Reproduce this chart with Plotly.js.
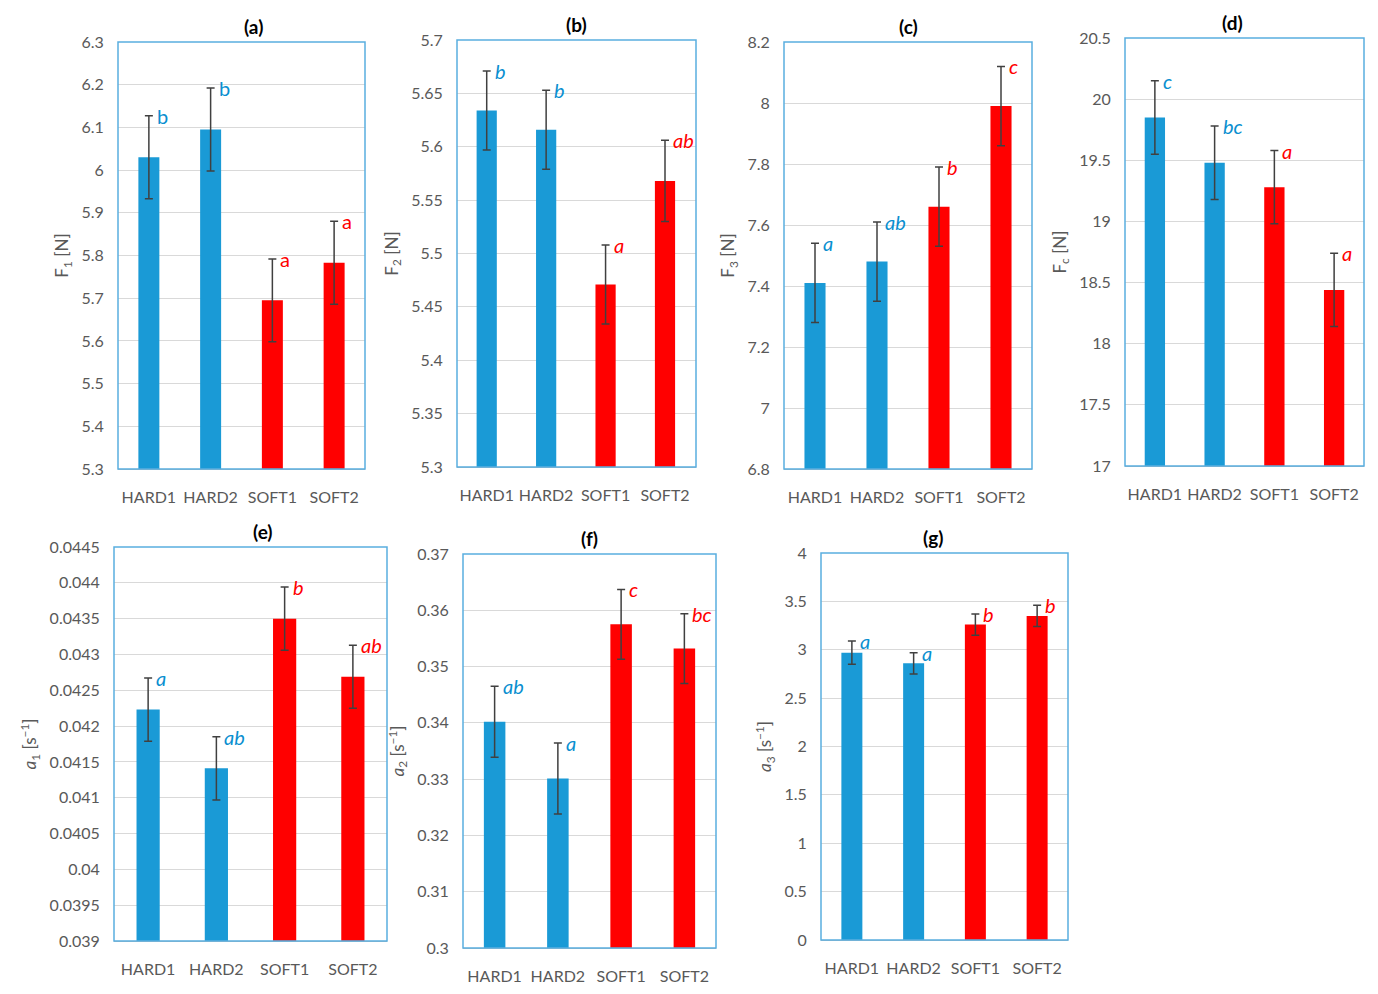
<!DOCTYPE html>
<html>
<head>
<meta charset="utf-8">
<script src="https://cdn.plot.ly/plotly-3.0.1.min.js"></script>
<style>body{margin:0}#chart{width:1378px;height:994px}</style>
</head>
<body>
<div id="chart"></div>
<script>
var categories = ['HARD1', 'HARD2', 'SOFT1', 'SOFT2'];
var barColors = ['#1a9ad6', '#1a9ad6', '#ff0000', '#ff0000'];

var aMean = [6.03, 6.095, 5.695, 5.783], aErr = [0.097, 0.097, 0.097, 0.097], aLetters = ['b', 'b', 'a', 'a'];
var bMean = [5.634, 5.616, 5.471, 5.568], bErr = [0.037, 0.037, 0.037, 0.038], bLetters = ['b', 'b', 'a', 'ab'];
var cMean = [7.41, 7.48, 7.66, 7.99], cErr = [0.13, 0.13, 0.13, 0.13], cLetters = ['a', 'ab', 'b', 'c'];
var dMean = [19.85, 19.48, 19.28, 18.44], dErr = [0.3, 0.3, 0.3, 0.3], dLetters = ['c', 'bc', 'a', 'a'];
var eMean = [0.04223, 0.04141, 0.0435, 0.04269], eErr = [0.00044, 0.00044, 0.00044, 0.00044], eLetters = ['a', 'ab', 'b', 'ab'];
var fMean = [0.3402, 0.3301, 0.3575, 0.3532], fErr = [0.0063, 0.0063, 0.0062, 0.0062], fLetters = ['ab', 'a', 'c', 'bc'];
var gMean = [2.97, 2.86, 3.26, 3.35], gErr = [0.12, 0.11, 0.11, 0.11], gLetters = ['a', 'a', 'b', 'b'];

var panels = [
  {t: '(a)', m: aMean, e: aErr, l: aLetters, yt: 'F<sub>1</sub> [N]', r: [5.3, 6.3], d: 0.1, box: [118, 365, 42, 469], it: false},
  {t: '(b)', m: bMean, e: bErr, l: bLetters, yt: 'F<sub>2</sub> [N]', r: [5.3, 5.7], d: 0.05, box: [457, 696, 40, 467], it: true},
  {t: '(c)', m: cMean, e: cErr, l: cLetters, yt: 'F<sub>3</sub> [N]', r: [6.8, 8.2], d: 0.2, box: [784, 1032, 42, 469], it: true},
  {t: '(d)', m: dMean, e: dErr, l: dLetters, yt: 'F<sub>c</sub> [N]', r: [17, 20.5], d: 0.5, box: [1125, 1364, 38, 466], it: true},
  {t: '(e)', m: eMean, e: eErr, l: eLetters, yt: '<i>a</i><sub>1</sub> [s<sup>−1</sup>]', r: [0.039, 0.0445], d: 0.0005, box: [114, 387, 547, 941], it: true},
  {t: '(f)', m: fMean, e: fErr, l: fLetters, yt: '<i>a</i><sub>2</sub> [s<sup>−1</sup>]', r: [0.3, 0.37], d: 0.01, box: [463, 716, 554, 948], it: true},
  {t: '(g)', m: gMean, e: gErr, l: gLetters, yt: '<i>a</i><sub>3</sub> [s<sup>−1</sup>]', r: [0, 4], d: 0.5, box: [821, 1068, 553, 940], it: true}
];

var W = 1378, H = 994;
var data = [], annotations = [], shapes = [];
var layout = {width: W, height: H, margin: {l: 0, r: 0, t: 0, b: 0}, showlegend: false,
  paper_bgcolor: 'white', plot_bgcolor: 'white', font: {family: 'Lato, sans-serif', color: '#595959'}};

panels.forEach(function (p, i) {
  var n = i === 0 ? '' : String(i + 1);
  var xa = 'x' + n, ya = 'y' + n;
  data.push({type: 'bar', x: categories, y: p.m, xaxis: xa, yaxis: ya, width: 0.34,
    marker: {color: barColors},
    error_y: {type: 'data', array: p.e, visible: true, color: '#404040', thickness: 1.5, width: 4}});
  var bx = p.box;
  layout['xaxis' + n] = {domain: [bx[0] / W, bx[1] / W], anchor: ya, showline: true, linecolor: '#bfbfbf',
    tickfont: {size: 16, color: '#595959'}, ticks: 'outside', ticklen: 14, tickcolor: 'rgba(0,0,0,0)', fixedrange: true};
  layout['yaxis' + n] = {domain: [1 - bx[3] / H, 1 - bx[2] / H], anchor: xa, range: p.r, dtick: p.d,
    showgrid: true, gridcolor: '#d9d9d9', zeroline: false, ticks: 'outside', ticklen: 10, tickcolor: 'rgba(0,0,0,0)',
    tickfont: {size: 16, color: '#595959'},
    title: {text: p.yt, font: {size: 17, color: '#595959'}, standoff: 8}};
  shapes.push({type: 'rect', xref: 'paper', yref: 'paper', x0: bx[0] / W, x1: bx[1] / W,
    y0: 1 - bx[3] / H, y1: 1 - bx[2] / H, line: {color: '#5aaee0', width: 1.5}});
  annotations.push({xref: 'paper', yref: 'paper', x: (bx[0] + bx[1]) / 2 / W, y: 1 - bx[2] / H,
    yanchor: 'bottom', yshift: 2, showarrow: false, text: '<b>' + p.t + '</b>', font: {size: 19, color: '#000'}});
  p.l.forEach(function (letter, k) {
    annotations.push({xref: xa, yref: ya, x: k, y: p.m[k] + p.e[k], yanchor: 'middle', xanchor: 'left', xshift: 6,
      showarrow: false, text: p.it ? '<i>' + letter + '</i>' : letter,
      font: {size: 20, color: barColors[k] === '#ff0000' ? '#ff0000' : '#0a8fd0'}});
  });
});
layout.annotations = annotations;
layout.shapes = shapes;
Plotly.newPlot('chart', data, layout, {displayModeBar: false});
</script>
</body>
</html>
